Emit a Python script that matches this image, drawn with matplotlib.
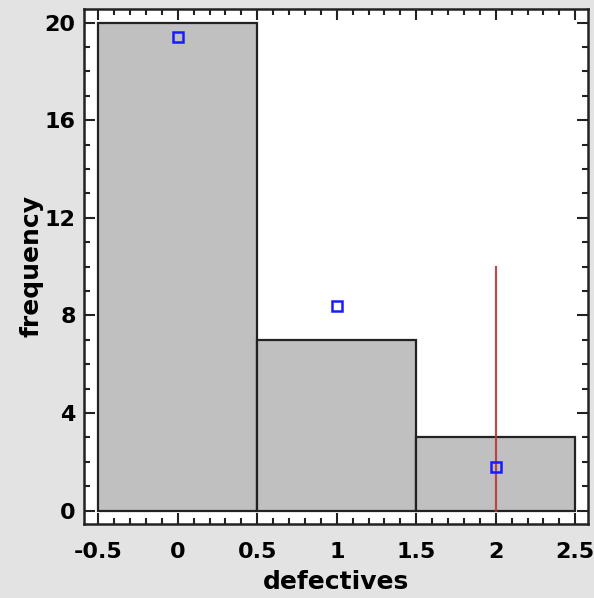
import matplotlib
matplotlib.use("Agg")
import matplotlib.pyplot as plt
from matplotlib.ticker import MultipleLocator

# histogram of defectives (bin edges and counts)
bin_edges = [-0.5, 0.5, 1.5, 2.5]
counts = [20, 7, 3]

# expected (fitted) frequencies
fit_x = [0, 1, 2]
fit_y = [19.4, 8.4, 1.8]

# reference line
ref_x = 2
ref_top = 10

x_ticks = [-0.5, 0, 0.5, 1, 1.5, 2, 2.5]
x_tick_labels = ["-0.5", "0", "0.5", "1", "1.5", "2", "2.5"]
y_ticks = [0, 4, 8, 12, 16, 20]

plt.rcParams["font.family"] = ["DejaVu Sans"]
plt.rcParams["font.weight"] = "bold"

fig = plt.figure(figsize=(5.94, 5.98), dpi=100, facecolor="#e3e3e3")
ax = fig.add_axes([0.1414, 0.1237, 0.8485, 0.8613])
ax.set_facecolor("white")

lefts = bin_edges[:-1]
widths = [b - a for a, b in zip(bin_edges[:-1], bin_edges[1:])]
ax.bar(lefts, counts, width=widths, align="edge", color="#c0c0c0",
       edgecolor="#222222", linewidth=1.6, zorder=2)

ax.plot([ref_x, ref_x], [0, ref_top], color="#b5393a", linewidth=1.6, alpha=0.9, zorder=3)
ax.plot(fit_x, fit_y, linestyle="none", marker="s", markersize=7,
        markerfacecolor="none", markeredgecolor="#1a1aff", markeredgewidth=1.8, zorder=4)

ax.set_xlim(-0.59, 2.58)
ax.set_ylim(-0.55, 20.56)
ax.set_xticks(x_ticks)
ax.set_xticklabels(x_tick_labels)
ax.set_yticks(y_ticks)
ax.xaxis.set_minor_locator(MultipleLocator(0.1))
ax.yaxis.set_minor_locator(MultipleLocator(1))

ax.tick_params(which="both", direction="in", top=True, right=True, width=1.5, color="#222222")
ax.tick_params(which="major", length=8, labelsize=16)
ax.tick_params(axis="x", which="major", pad=13)
ax.tick_params(axis="y", which="major", pad=6)
ax.tick_params(which="minor", length=4)
for lab in ax.get_xticklabels() + ax.get_yticklabels():
    lab.set_fontweight("bold")
for s in ax.spines.values():
    s.set_linewidth(1.8)
    s.set_color("#222222")

ax.set_xlabel("defectives", fontsize=18, fontweight="bold", labelpad=6)
ax.set_ylabel("frequency", fontsize=18, fontweight="bold", labelpad=1)

fig.savefig("out.png", dpi=100, facecolor=fig.get_facecolor())
